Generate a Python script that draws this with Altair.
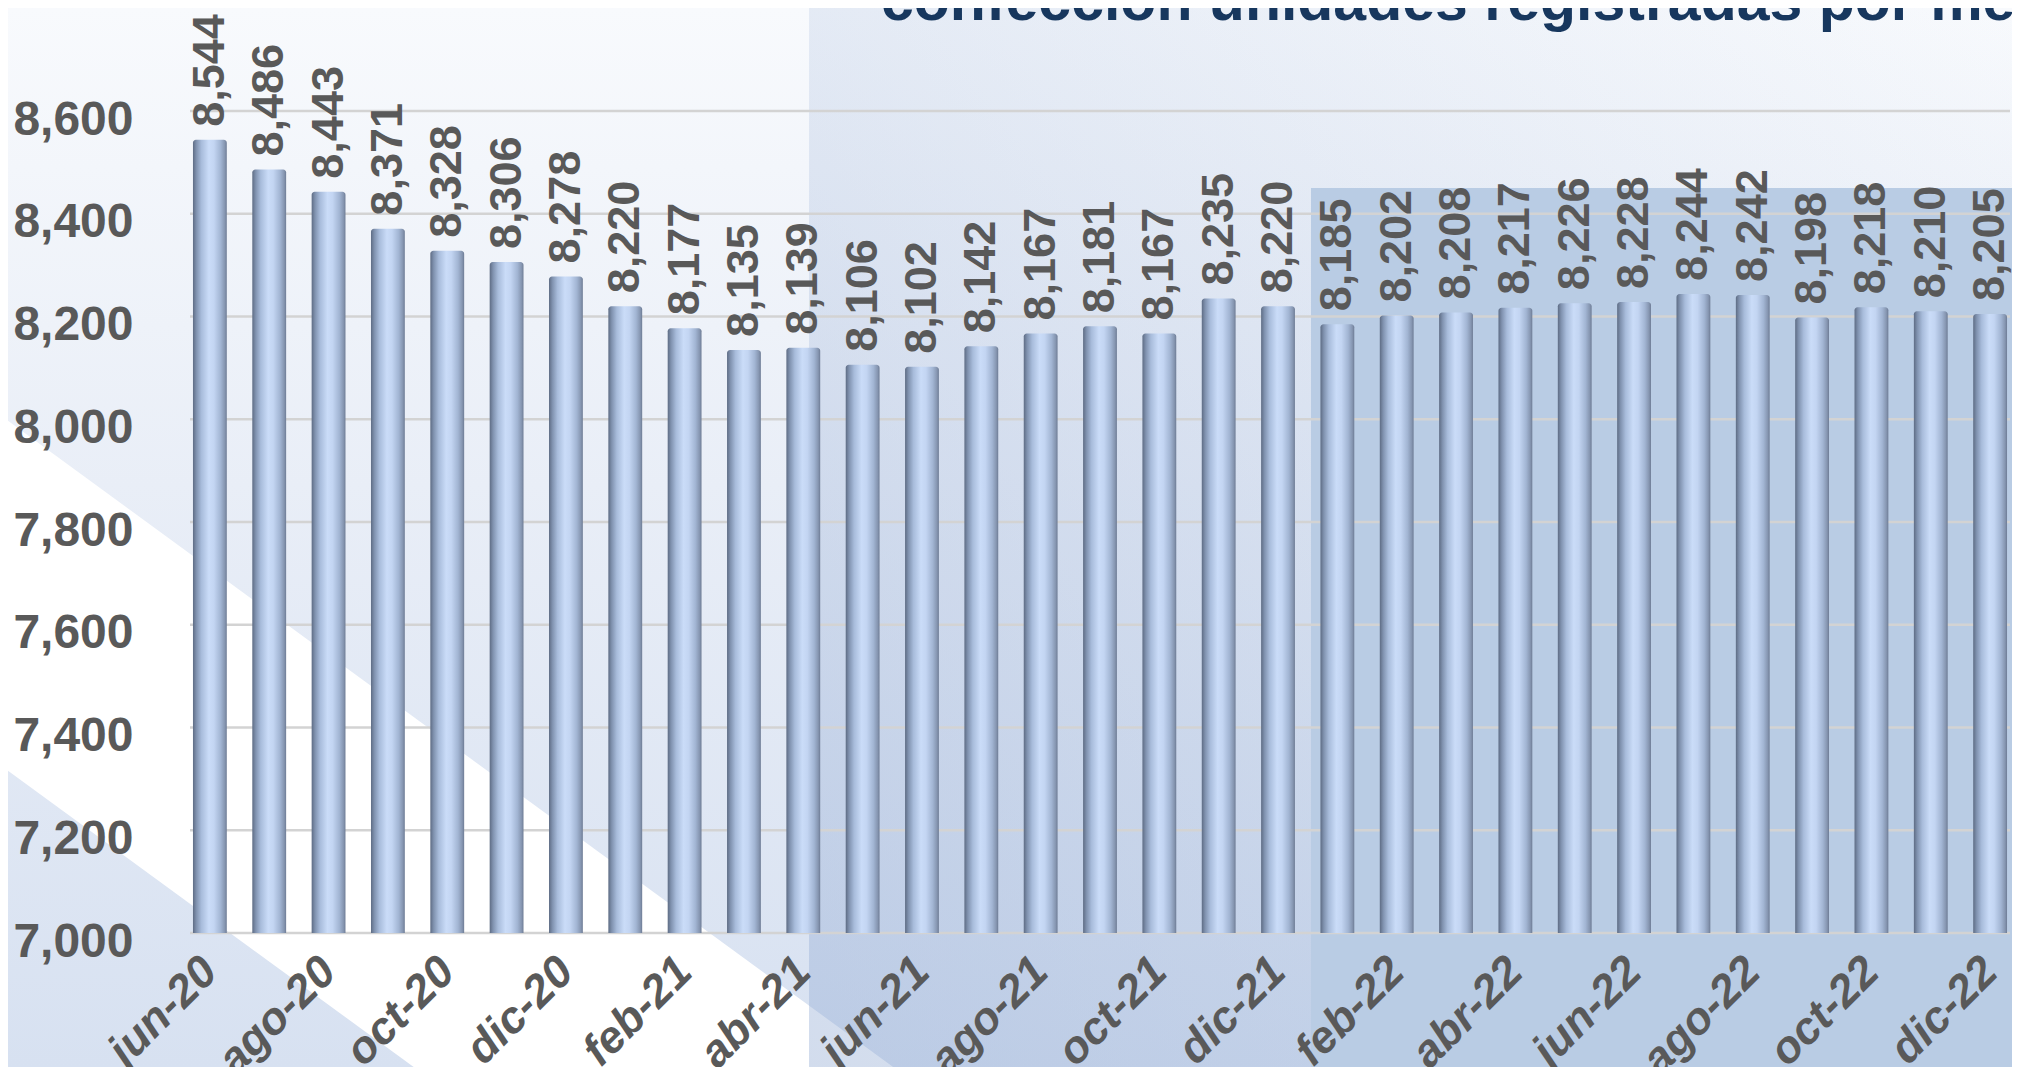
import altair as alt
import pandas as pd

# ---------------- data ----------------
MONTHS = ["jun-20", "jul-20", "ago-20", "sep-20", "oct-20", "nov-20", "dic-20",
          "ene-21", "feb-21", "mar-21", "abr-21", "may-21", "jun-21", "jul-21",
          "ago-21", "sep-21", "oct-21", "nov-21", "dic-21",
          "ene-22", "feb-22", "mar-22", "abr-22", "may-22", "jun-22", "jul-22",
          "ago-22", "sep-22", "oct-22", "nov-22", "dic-22"]
VALUES = [8544, 8486, 8443, 8371, 8328, 8306, 8278,
          8220, 8177, 8135, 8139, 8106, 8102, 8142, 8167, 8181, 8167, 8235, 8220,
          8185, 8202, 8208, 8217, 8226, 8228, 8244, 8242, 8198, 8218, 8210, 8205]
AXIS_MONTHS = MONTHS[::2]
Y_TICKS = [7000, 7200, 7400, 7600, 7800, 8000, 8200, 8400, 8600]
TITLE = "confección unidades registradas por mes"

# ---------------- layout ----------------
PAD_L, PAD_T, PAD_R, PAD_B = 182, 103, 2, 134
W, H = 1820, 822
FONT = "Liberation Sans"
GREY = "#595959"

df = pd.DataFrame({"mes": MONTHS, "valor": VALUES})
grid_df = pd.DataFrame({"valor": Y_TICKS})
one = pd.DataFrame({"k": [0]})

yscale = alt.Scale(domain=[7000, 8600], zero=False, nice=False)
xscale = alt.Scale(paddingInner=0.43, paddingOuter=0.05)

# ---------------- background decoration ----------------
bg = alt.Chart(one).mark_rect(
    color=alt.Gradient(gradient="linear", x1=0, y1=0, x2=0, y2=1,
                       stops=[alt.GradientStop(color="#F8FAFD", offset=0),
                              alt.GradientStop(color="#E9EEF7", offset=0.45),
                              alt.GradientStop(color="#D7E1F1", offset=1)])
).encode(x=alt.value(-PAD_L), x2=alt.value(W + PAD_R),
         y=alt.value(-PAD_T), y2=alt.value(H + PAD_B))

band_df = pd.DataFrame({"bx": [-190, 900],
                        "bu": [442.7 - 0.73 * 190, 442.7 + 0.73 * 900],
                        "bl": [792.7 - 0.73 * 190, 792.7 + 0.73 * 900]})
band = alt.Chart(band_df).mark_area(color="white", opacity=1).encode(
    x=alt.X("bx:Q", scale=None, axis=None),
    y=alt.Y("bu:Q", scale=None, axis=None),
    y2="bl:Q")

rectA = alt.Chart(one).mark_rect(
    color=alt.Gradient(gradient="linear", x1=0, y1=1, x2=1, y2=0,
                       stops=[alt.GradientStop(color="rgba(148,172,212,0.42)", offset=0),
                              alt.GradientStop(color="rgba(148,172,212,0.20)", offset=0.5),
                              alt.GradientStop(color="rgba(148,172,212,0.0)", offset=1)])
).encode(x=alt.value(619), x2=alt.value(W + PAD_R),
         y=alt.value(-PAD_T), y2=alt.value(H + PAD_B))

rectB = alt.Chart(one).mark_rect(color="#B9CCE4").encode(
    x=alt.value(1121), x2=alt.value(W + PAD_R),
    y=alt.value(77), y2=alt.value(H + PAD_B))

title = alt.Chart(one).mark_text(
    text=TITLE, font=FONT, fontSize=59, fontWeight="bold", color="#17375E",
    align="left", baseline="alphabetic"
).encode(x=alt.value(691), y=alt.value(-91))

# ---------------- data layers ----------------
xaxis = alt.Axis(orient="bottom", values=AXIS_MONTHS, labelAngle=-45,
                 labelAlign="right", labelBaseline="middle", labelPadding=31,
                 labelFont=FONT, labelFontSize=45, labelFontWeight="bold",
                 labelFontStyle="italic", labelColor=GREY,
                 domain=False, ticks=False, grid=False, zindex=1)
yaxis = alt.Axis(orient="left", values=Y_TICKS,
                 labelExpr="format(datum.value, ',')", labelPadding=57,
                 labelOffset=9, labelFont=FONT, labelFontSize=48,
                 labelFontWeight="bold", labelColor=GREY, domain=False,
                 ticks=False, grid=False, zindex=1)

grid = alt.Chart(grid_df).mark_rule(color="#D3D3D3", strokeWidth=2.5).encode(
    y=alt.Y("valor:Q", scale=yscale, axis=yaxis, title=None))

bar_grad = alt.Gradient(
    gradient="linear", x1=0, y1=0, x2=1, y2=0,
    stops=[alt.GradientStop(color="#5E6C84", offset=0),
           alt.GradientStop(color="#8092AF", offset=0.1),
           alt.GradientStop(color="#A8BCDB", offset=0.25),
           alt.GradientStop(color="#CADCF8", offset=0.47),
           alt.GradientStop(color="#C3D5F2", offset=0.62),
           alt.GradientStop(color="#A2B5D3", offset=0.82),
           alt.GradientStop(color="#8696B1", offset=0.94),
           alt.GradientStop(color="#6E7C95", offset=1)])

bars = alt.Chart(df).mark_bar(color=bar_grad, cornerRadiusTopLeft=3,
                              cornerRadiusTopRight=3).encode(
    x=alt.X("mes:N", sort=MONTHS, scale=xscale, title=None, axis=xaxis),
    y=alt.Y("valor:Q", scale=yscale, title=None, axis=yaxis),
    y2=alt.datum(7000))

labels = alt.Chart(df).mark_text(
    angle=270, align="left", baseline="middle", dx=13,
    font=FONT, fontSize=45, fontWeight="bold", color=GREY
).encode(x=alt.X("mes:N", sort=MONTHS, scale=xscale, title=None, axis=xaxis),
         y=alt.Y("valor:Q", scale=yscale, title=None, axis=yaxis),
         text=alt.Text("valor:Q", format=","))

data_layers = alt.layer(grid, bars, labels)

chart = alt.layer(bg, band, rectA, rectB, title, data_layers).resolve_scale(
    x="independent", y="independent"
).properties(
    width=W, height=H,
    autosize=alt.AutoSizeParams(type="none"),
    padding={"left": PAD_L, "top": PAD_T, "right": PAD_R, "bottom": PAD_B},
    background="white"
).configure_view(stroke=None)

chart.save("out.html", embed_options={"renderer": "svg", "actions": False})
